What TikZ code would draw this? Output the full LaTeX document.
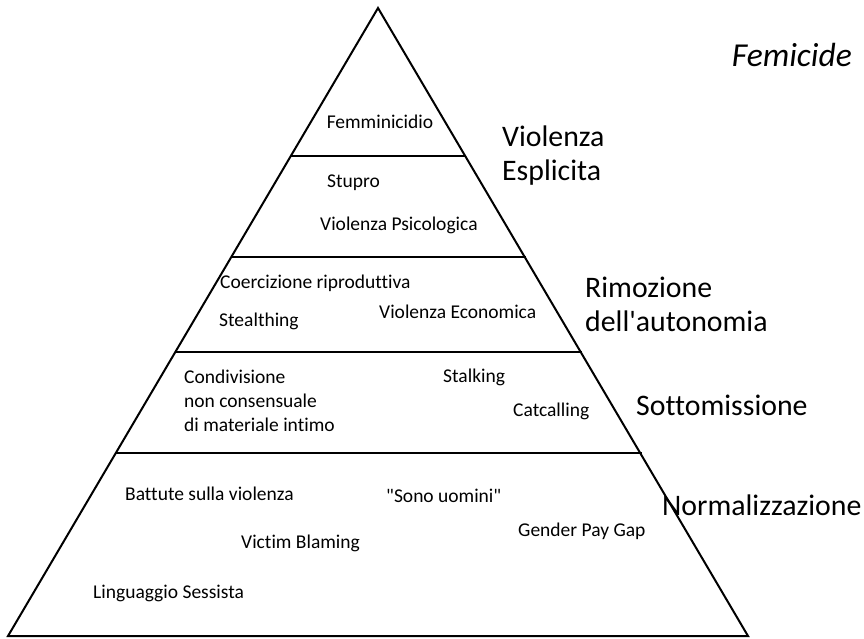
\documentclass[tikz,border=0pt]{standalone}
\usepackage{fontspec}
\setmainfont{Carlito}[Ligatures={CommonOff,TeXOff}]
\begin{document}
\begin{tikzpicture}[x=1pt,y=-1pt,
  edge/.style={line width=2pt,line join=miter},
  band/.style={line width=2.6pt},
  item/.style={inner sep=0pt,font=\fontsize{19.5}{24}\selectfont,align=left},
  level/.style={inner sep=0pt,font=\fontsize{29.8}{34}\selectfont,align=left},
  title/.style={inner sep=0pt,font=\fontsize{33.5}{38}\selectfont\itshape}]
\useasboundingbox (0,0) rectangle (864,638);
\coordinate (A) at (378,8);
\coordinate (BL) at (8,636);
\coordinate (BR) at (748,636);
\draw[edge] (A) -- (BL) -- (BR) -- cycle;
\coordinate (l1) at (291,156); \coordinate (r1) at (466,156);
\coordinate (l2) at (231,257); \coordinate (r2) at (526,257);
\coordinate (l3) at (175,352); \coordinate (r3) at (582,352);
\coordinate (l4) at (115,453); \coordinate (r4) at (642,453);
\draw[band] (l1) -- (r1);
\draw[band] (l2) -- (r2);
\draw[band] (l3) -- (r3);
\draw[band] (l4) -- (r4);
% items
\node[item,anchor=mid] (femm) at (380,126) {Femminicidio};
\node[item,anchor=mid west] (stupro) at (327,185) {Stupro};
\node[item,anchor=mid west] (psico) at (320,228) {Violenza Psicologica};
\node[item,anchor=mid west] (coerc) at (220,286) {Coercizione riproduttiva};
\node[item,anchor=mid west] (stealth) at (219,324) {Stealthing};
\node[item,anchor=mid west] (econ) at (379,316) {Violenza Economica};
\node[item,anchor=north west] (cond) at (184,370) {Condivisione\\non consensuale\\di materiale intimo};
\node[item,anchor=mid west] (stalk) at (443,380) {Stalking};
\node[item,anchor=mid west] (catc) at (513,414) {Catcalling};
\node[item,anchor=mid west] (batt) at (125,498) {Battute sulla violenza};
\node[item,anchor=mid west] (sono) at (386,500) {"Sono uomini"};
\node[item,anchor=mid west] (gpg) at (518,534) {Gender Pay Gap};
\node[item,anchor=mid west] (vict) at (241,546) {Victim Blaming};
\node[item,anchor=mid west] (ling) at (93,596) {Linguaggio Sessista};
% levels
\node[level,anchor=north west] (esp) at (502,126) {Violenza\\Esplicita};
\node[level,anchor=north west] (rim) at (585,277) {Rimozione\\dell'autonomia};
\node[level,anchor=mid west] (sott) at (636,413) {Sottomissione};
\node[level,anchor=mid west] (norm) at (662,513) {Normalizzazione};
\node[title,anchor=mid east] (fem) at (852,64) {Femicide};
\end{tikzpicture}
\end{document}
